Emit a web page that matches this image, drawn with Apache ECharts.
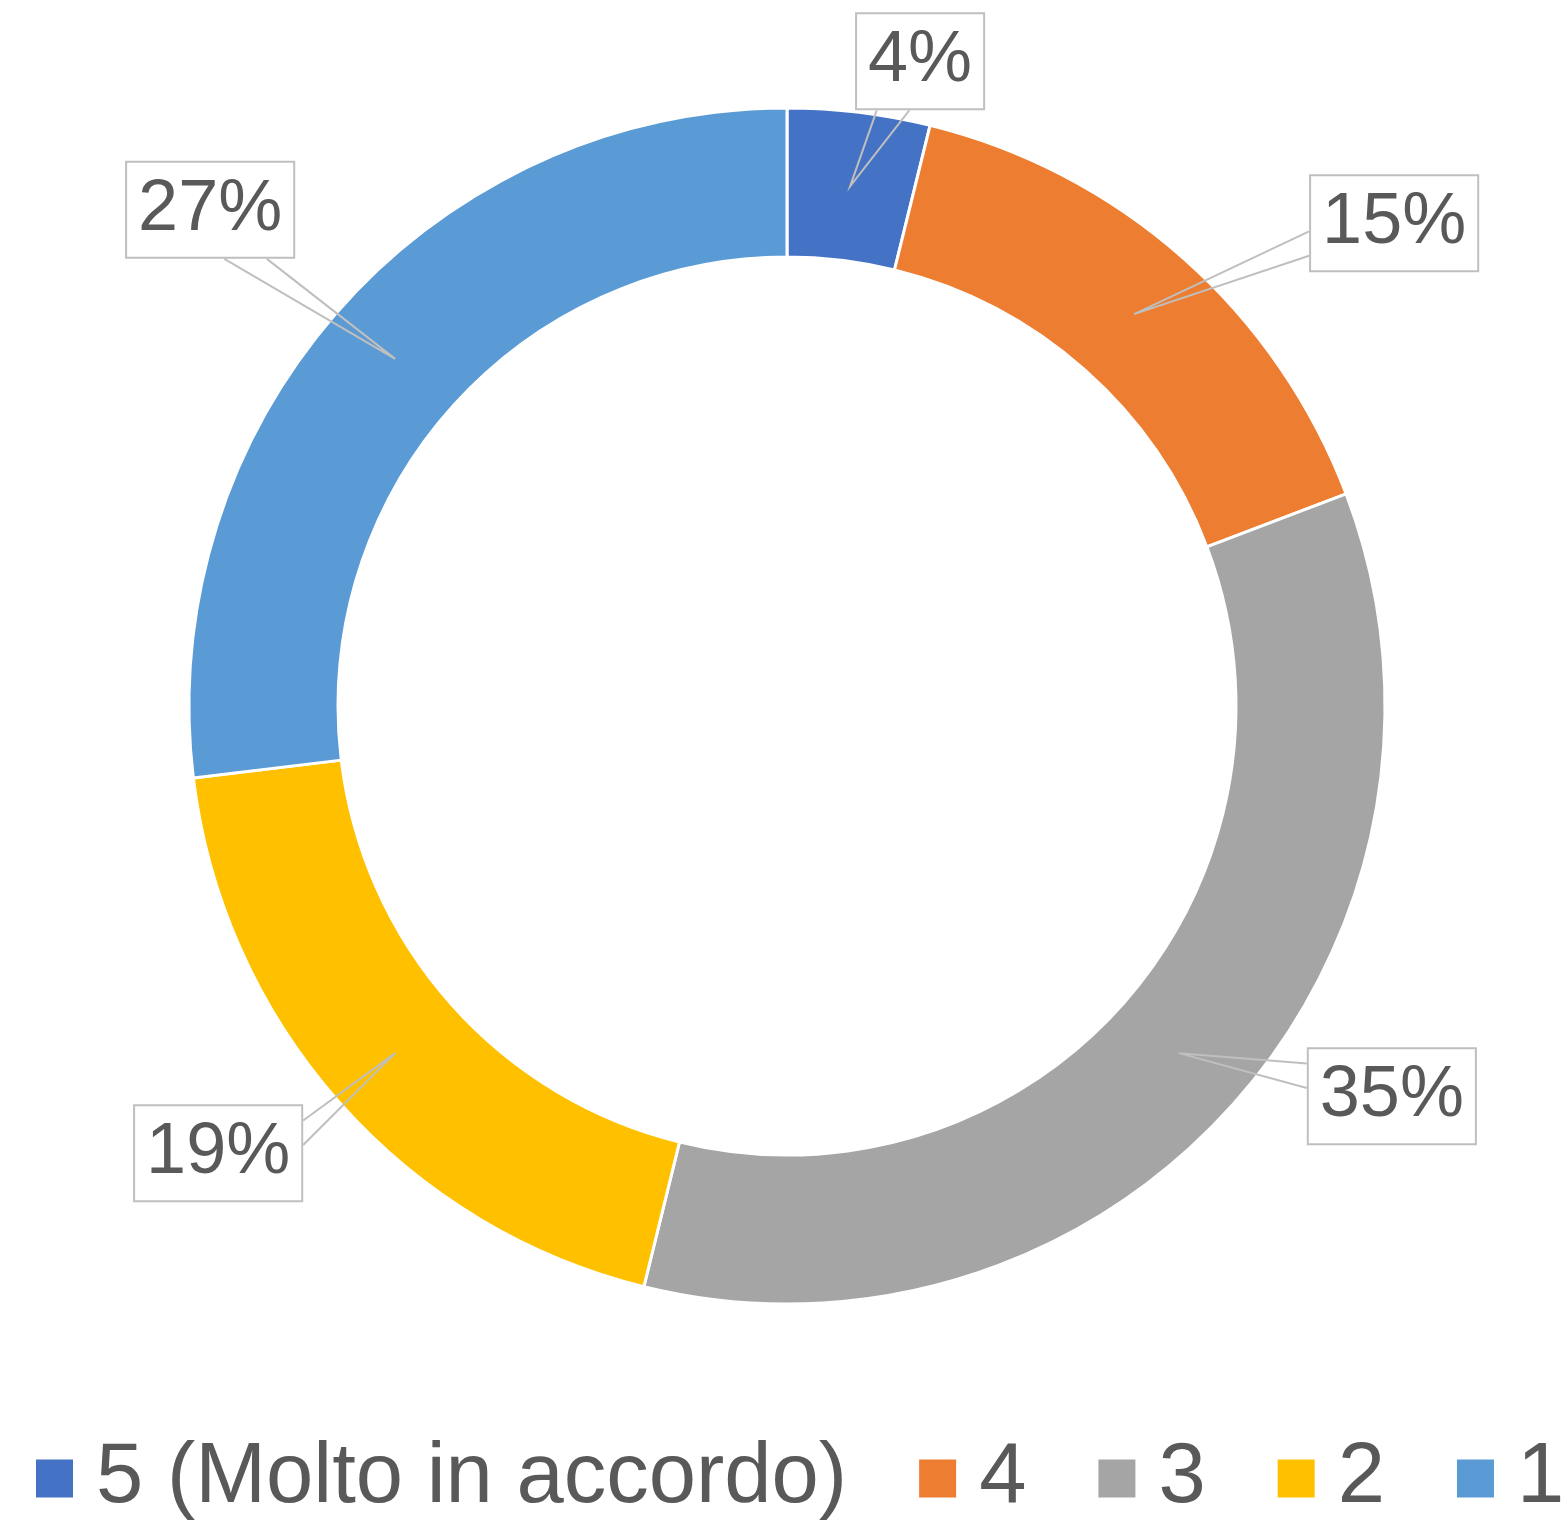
<!DOCTYPE html>
<html>
<head>
<meta charset="utf-8">
<script src="https://cdn.jsdelivr.net/npm/echarts@6/dist/echarts.min.js"></script>
<style>
  html, body { margin: 0; padding: 0; background: #fff; }
  #chart { width: 1568px; height: 1523px; }
</style>
</head>
<body>
<div id="chart"></div>
<script>
const categories = ['5 (Molto in accordo)', '4', '3', '2', '1'];
// answers per level (shown as rounded percentages)
const values = [3, 12, 27, 15, 21];
const colors = ['#4472C4', '#ED7D31', '#A5A5A5', '#FFC000', '#5B9BD5'];

// where each callout box sits, relative to the tip of its pointer
const labelOffsets = [[70, -125], [260, -91], [213, 43], [-177, 100], [-185, -149]];

const FONT = '"Liberation Sans", Arial, sans-serif';
const TEXT = '#595959';
const CENTER = [787, 706];

const chart = echarts.init(document.getElementById('chart'));

const pieData = categories.map((name, i) => ({
  name: name,
  value: values[i],
  itemStyle: { color: colors[i] }
}));

// pointer of an Excel style callout: base on the box side facing the tip
function calloutLayout(params){
  const i = params.dataIndex;
  const tip = params.labelLinePoints[0];
  const w = params.labelRect.width, h = params.labelRect.height;
  const cx = tip[0] + labelOffsets[i][0];
  const cy = tip[1] + labelOffsets[i][1];
  const rx = (tip[0] - cx) / (w / 2);
  const ry = (tip[1] - cy) / (h / 2);
  let a, b;
  if(Math.abs(ry) > Math.abs(rx)){
    const y = ry > 0 ? cy + h / 2 : cy - h / 2;
    const left = cx - w / 2;
    const f = tip[0] < cx ? [1/6, 5/12] : [7/12, 5/6];
    a = [left + w * f[0], y];
    b = [left + w * f[1], y];
  }
  else{
    const x = rx > 0 ? cx + w / 2 : cx - w / 2;
    const top = cy - h / 2;
    const f = tip[1] < cy ? [1/6, 5/12] : [7/12, 5/6];
    a = [x, top + h * f[0]];
    b = [x, top + h * f[1]];
  }
  return {
    x: cx,
    y: cy,
    align: 'center',
    verticalAlign: 'middle',
    labelLinePoints: [a, tip, b]
  };
}

const option = {
  backgroundColor: '#fff',
  animation: false,
  textStyle: { fontFamily: FONT },
  legend: {
    data: categories,
    left: 34,
    top: 1436,
    padding: 0,
    orient: 'horizontal',
    icon: 'rect',
    itemWidth: 39,
    itemHeight: 40,
    itemGap: 70,
    selectedMode: false,
    textStyle: {
      fontFamily: FONT,
      fontSize: 85,
      lineHeight: 85,
      color: TEXT,
      padding: [0, 0, 0, 17]
    }
  },
  series: [
    {
      name: 'ring',
      type: 'pie',
      center: CENTER,
      radius: [449, 598],
      startAngle: 90,
      clockwise: true,
      silent: true,
      data: pieData,
      itemStyle: { borderColor: '#fff', borderWidth: 3 },
      label: { show: false },
      labelLine: { show: false },
      emphasis: { disabled: true }
    },
    {
      // invisible pie reaching the middle of the ring, carries the callouts
      name: 'callouts',
      type: 'pie',
      center: CENTER,
      radius: [0, 523.5],
      startAngle: 90,
      clockwise: true,
      silent: true,
      z: 5,
      percentPrecision: 0,
      avoidLabelOverlap: false,
      data: categories.map((name, i) => ({ name: name, value: values[i] })),
      itemStyle: { color: 'rgba(0,0,0,0)', borderWidth: 0 },
      label: {
        show: true,
        position: 'outside',
        formatter: '{d}%',
        fontFamily: FONT,
        fontSize: 72,
        lineHeight: 72,
        color: TEXT,
        backgroundColor: '#fff',
        borderColor: '#BFBFBF',
        borderWidth: 2,
        padding: [17, 11, 5, 11]
      },
      labelLine: {
        show: true,
        showAbove: true,
        length: 60,
        length2: 40,
        lineStyle: { color: '#BFBFBF', width: 2 }
      },
      labelLayout: calloutLayout,
      emphasis: { disabled: true }
    }
  ]
};

chart.setOption(option);
</script>
</body>
</html>
